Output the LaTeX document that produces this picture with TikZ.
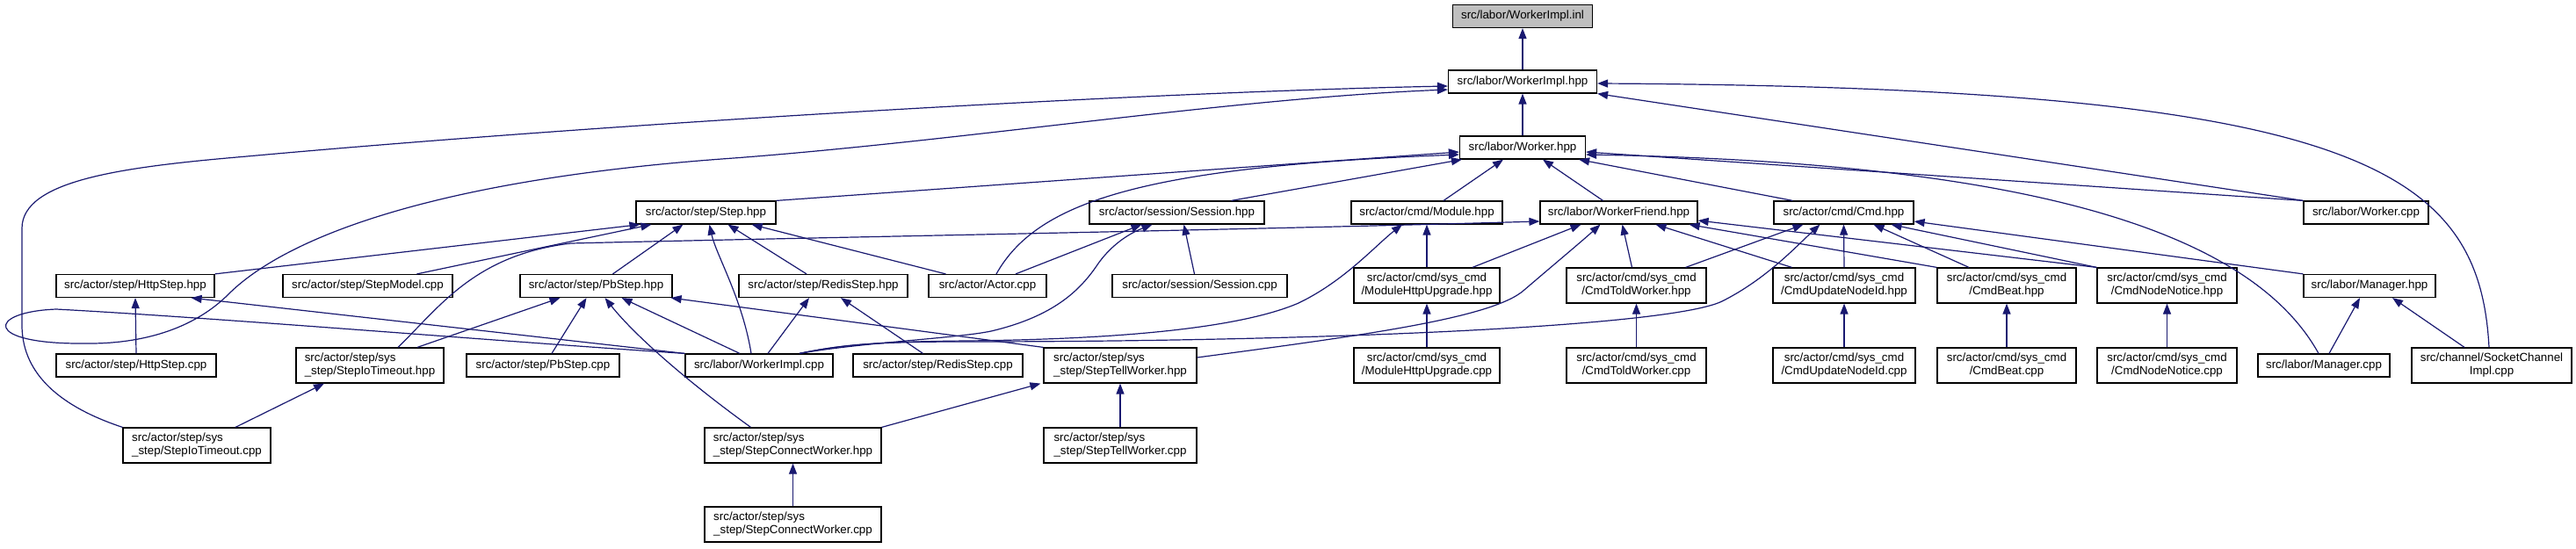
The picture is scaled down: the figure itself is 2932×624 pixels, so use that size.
\documentclass[tikz,border=0pt]{standalone}
\usepackage{fontspec}
\setmainfont{Liberation Sans}
\usetikzlibrary{arrows.meta}
\definecolor{edgeblue}{HTML}{191970}
\definecolor{inlgray}{HTML}{BFBFBF}
\begin{document}
\begin{tikzpicture}[x=1pt,y=-1pt,
 nd/.style={draw=black, line width=1.2pt, fill=white, inner sep=0pt, minimum height=26pt, font=\fontsize{13.33}{15}\selectfont, align=center},
 nd2/.style={nd, minimum height=40pt},
 ed/.style={draw=edgeblue, line width=1.2pt, -{Triangle[length=12pt,width=9pt]}}]
\useasboundingbox (0,0) rectangle (2932,624);
% row 0-2
\node[nd, fill=inlgray, minimum width=159pt] (inl) at (1733,18.5) {src/labor/WorkerImpl.inl};
\node[nd, minimum width=169pt] (implh) at (1733,93) {src/labor/WorkerImpl.hpp};
\node[nd, minimum width=143pt] (workerh) at (1733,168) {src/labor/Worker.hpp};
% row 3
\node[nd, minimum width=159pt] (steph) at (803.5,242) {src/actor/step/Step.hpp};
\node[nd, minimum width=199pt] (sessh) at (1339.5,242) {src/actor/session/Session.hpp};
\node[nd, minimum width=172pt] (modh) at (1624,242) {src/actor/cmd/Module.hpp};
\node[nd, minimum width=179pt] (friendh) at (1842.5,242) {src/labor/WorkerFriend.hpp};
\node[nd, minimum width=159pt] (cmdh) at (2098.5,242) {src/actor/cmd/Cmd.hpp};
\node[nd, minimum width=142pt] (workercpp) at (2693,242) {src/labor/Worker.cpp};
% row 4
\node[nd, minimum width=180pt] (httph) at (154,325.5) {src/actor/step/HttpStep.hpp};
\node[nd, minimum width=193pt] (modelcpp) at (418.5,325.5) {src/actor/step/StepModel.cpp};
\node[nd, minimum width=173pt] (pbh) at (678.5,325.5) {src/actor/step/PbStep.hpp};
\node[nd, minimum width=192pt] (redish) at (937,325.5) {src/actor/step/RedisStep.hpp};
\node[nd, minimum width=134pt] (actorcpp) at (1124,325.5) {src/actor/Actor.cpp};
\node[nd, minimum width=199pt] (sesscpp) at (1365.5,325.5) {src/actor/session/Session.cpp};
\node[nd2, minimum width=166pt] (modupgh) at (1624,325) {src/actor/cmd/sys\_cmd\\/ModuleHttpUpgrade.hpp};
\node[nd2, minimum width=159pt] (toldh) at (1862.5,325) {src/actor/cmd/sys\_cmd\\/CmdToldWorker.hpp};
\node[nd2, minimum width=162pt] (updh) at (2099,325) {src/actor/cmd/sys\_cmd\\/CmdUpdateNodeId.hpp};
\node[nd2, minimum width=158pt] (beath) at (2284,325) {src/actor/cmd/sys\_cmd\\/CmdBeat.hpp};
\node[nd2, minimum width=159pt] (noticeh) at (2466.5,325) {src/actor/cmd/sys\_cmd\\/CmdNodeNotice.hpp};
\node[nd, minimum width=150pt] (managerh) at (2697,325.5) {src/labor/Manager.hpp};
% row 5
\node[nd, minimum width=182pt] (httpcpp) at (155,416) {src/actor/step/HttpStep.cpp};
\node[nd2, align=left, minimum width=168pt] (iotoh) at (421,416) {src/actor/step/sys\\\_step/StepIoTimeout.hpp};
\node[nd, minimum width=174pt] (pbcpp) at (618,416) {src/actor/step/PbStep.cpp};
\node[nd, minimum width=168pt] (implcpp) at (864,416) {src/labor/WorkerImpl.cpp};
\node[nd, minimum width=193pt] (rediscpp) at (1067.5,416) {src/actor/step/RedisStep.cpp};
\node[nd2, align=left, minimum width=174pt] (tellh) at (1275,416) {src/actor/step/sys\\\_step/StepTellWorker.hpp};
\node[nd2, minimum width=166pt] (modupgcpp) at (1624,416) {src/actor/cmd/sys\_cmd\\/ModuleHttpUpgrade.cpp};
\node[nd2, minimum width=159pt] (toldcpp) at (1862.5,416) {src/actor/cmd/sys\_cmd\\/CmdToldWorker.cpp};
\node[nd2, minimum width=162pt] (updcpp) at (2099,416) {src/actor/cmd/sys\_cmd\\/CmdUpdateNodeId.cpp};
\node[nd2, minimum width=158pt] (beatcpp) at (2284,416) {src/actor/cmd/sys\_cmd\\/CmdBeat.cpp};
\node[nd2, minimum width=159pt] (noticecpp) at (2466.5,416) {src/actor/cmd/sys\_cmd\\/CmdNodeNotice.cpp};
\node[nd, minimum width=150pt] (managercpp) at (2645,416) {src/labor/Manager.cpp};
\node[nd2, minimum width=182pt] (socketcpp) at (2836,416) {src/channel/SocketChannel\\Impl.cpp};
% row 6-7
\node[nd2, align=left, minimum width=168pt] (iotocpp) at (224,507) {src/actor/step/sys\\\_step/StepIoTimeout.cpp};
\node[nd2, align=left, minimum width=201pt] (connh) at (902.5,507) {src/actor/step/sys\\\_step/StepConnectWorker.hpp};
\node[nd2, align=left, minimum width=174pt] (tellcpp) at (1275,507) {src/actor/step/sys\\\_step/StepTellWorker.cpp};
\node[nd2, align=left, minimum width=201pt] (conncpp) at (902.5,597) {src/actor/step/sys\\\_step/StepConnectWorker.cpp};

% edges to WorkerImpl.inl / WorkerImpl.hpp
\draw[ed] (implh.north) -- (inl.south);
\draw[ed] (workerh.north) -- (implh.south);
\draw[ed] (iotocpp.north west) .. controls (60,460) and (25,420) .. (25,370) -- (25,260) .. controls (25,205) and (140,190) .. (281,178) .. controls (700,140) and (1300,105) .. ([yshift=-5pt]implh.west);
\draw[ed] (implcpp.north west) .. controls (560,388) and (250,362) .. (64,352) .. controls (-15,355) and (-20,392) .. (96,391) .. controls (170,392) and (225,370) .. (260,335) .. controls (320,275) and (480,205) .. (835,180) .. controls (1100,160) and (1400,112) .. ([yshift=-9pt]implh.west);
\draw[ed] (workercpp.north west) -- (implh.south east);
\draw[ed] ([xshift=-3pt]socketcpp.north) .. controls (2822,190) and (2680,100) .. ([yshift=-2pt]implh.east);

% edges to Worker.hpp
\draw[ed] (steph.north east) -- ([yshift=-5pt]workerh.west);
\draw[ed] ([xshift=10pt]actorcpp.north) .. controls (1180,230) and (1300,190) .. ([yshift=-8pt]workerh.west);
\draw[ed] ([xshift=62pt]sessh.north) -- ([xshift=3pt]workerh.south west);
\draw[ed] ([xshift=19pt]modh.north) -- ([xshift=-22pt]workerh.south);
\draw[ed] ([xshift=-18pt]friendh.north) -- ([xshift=23pt]workerh.south);
\draw[ed] ([xshift=22pt]cmdh.north west) -- ([xshift=-8pt]workerh.south east);
\draw[ed] (workercpp.north west) -- ([yshift=-5pt]workerh.east);
\draw[ed] ([xshift=-6pt]managercpp.north) .. controls (2560,260) and (2300,185) .. ([yshift=-8pt]workerh.east);

% edges to Step.hpp
\draw[ed] (httph.north east) -- ([xshift=5pt]steph.south west);
\draw[ed] ([xshift=56pt]modelcpp.north) -- ([xshift=18pt]steph.south west);
\draw[ed] ([xshift=19pt]pbh.north) -- ([xshift=-26pt]steph.south);
\draw[ed] ([xshift=-9pt]implcpp.north) .. controls (845,340) and (815,290) .. ([xshift=4pt]steph.south);
\draw[ed] ([xshift=-19pt]redish.north) -- ([xshift=25pt]steph.south);
\draw[ed] ([xshift=20pt]actorcpp.north west) -- ([xshift=-28pt]steph.south east);

% edges to Session.hpp
\draw[ed] ([xshift=32pt]actorcpp.north) -- ([xshift=-40pt]sessh.south);
\draw[ed] ([xshift=46pt]implcpp.north) .. controls (980,390) and (1090,385) .. (1128,377) .. controls (1200,360) and (1230,330) .. (1250,300) .. controls (1270,272) and (1295,262) .. ([xshift=-28pt]sessh.south);
\draw[ed] ([xshift=-6pt]sesscpp.north) -- ([xshift=8pt]sessh.south);

% edges to Module.hpp
\draw[ed] (modupgh.north) -- (modh.south);
\draw[ed] ([xshift=46pt]implcpp.north) .. controls (960,392) and (1000,389) .. (1100,388) .. controls (1300,386) and (1420,370) .. (1478,345) .. controls (1530,320) and (1565,280) .. ([xshift=-28pt]modh.south);

% edges to WorkerFriend.hpp
\draw[ed] ([xshift=32pt]iotoh.north) .. controls (500,350) and (540,290) .. (650,277) .. controls (900,271) and (1400,262) .. ([yshift=-10pt]friendh.west);
\draw[ed] ([xshift=52pt]modupgh.north) -- ([xshift=-43pt]friendh.south);
\draw[ed] ([yshift=9pt]tellh.east) .. controls (1550,382) and (1700,362) .. (1735,330) .. controls (1770,300) and (1800,275) .. ([xshift=-21pt]friendh.south);
\draw[ed] ([xshift=-5pt]toldh.north) -- ([xshift=4pt]friendh.south);
\draw[ed] ([xshift=22pt]updh.north west) -- ([xshift=42pt]friendh.south);
\draw[ed] (beath.north west) -- ([xshift=-10pt]friendh.south east);
\draw[ed] (noticeh.north west) -- ([yshift=-9pt]friendh.east);

% edges to Cmd.hpp
\draw[ed] ([xshift=46pt]implcpp.north) .. controls (960,392) and (1000,389) .. (1100,389) .. controls (1500,389) and (1900,372) .. (1960,343) .. controls (2010,318) and (2045,280) .. ([xshift=-27pt]cmdh.south);
\draw[ed] ([xshift=-24pt]toldh.north east) -- ([xshift=-46pt]cmdh.south);
\draw[ed] (updh.north) -- (cmdh.south);
\draw[ed] ([xshift=-43pt]beath.north) -- ([xshift=34pt]cmdh.south);
\draw[ed] (noticeh.north west) -- ([xshift=54pt]cmdh.south);
\draw[ed] (managerh.north west) -- ([yshift=-10pt]cmdh.east);

% edges to Manager.hpp
\draw[ed] ([xshift=6pt]managercpp.north) -- ([xshift=-11pt]managerh.south);
\draw[ed] ([xshift=-31pt]socketcpp.north) -- ([xshift=26pt]managerh.south);

% other edges
\draw[ed] (httpcpp.north) -- (httph.south);
\draw[ed] (implcpp.north west) -- ([xshift=-27pt]httph.south east);
\draw[ed] ([xshift=54pt]iotoh.north) -- ([xshift=-41pt]pbh.south);
\draw[ed] ([xshift=10pt]pbcpp.north) -- ([xshift=-11pt]pbh.south);
\draw[ed] ([xshift=-48pt]connh.north) .. controls (790,440) and (725,385) .. ([xshift=10pt]pbh.south);
\draw[ed] ([xshift=-22pt]implcpp.north) -- ([xshift=29pt]pbh.south);
\draw[ed] (tellh.north west) -- ([xshift=-2pt]pbh.south east);
\draw[ed] ([xshift=10pt]implcpp.north) -- ([xshift=-16pt]redish.south);
\draw[ed] ([xshift=-17pt]rediscpp.north) -- ([xshift=20pt]redish.south);
\draw[ed] ([xshift=44pt]iotocpp.north) -- ([xshift=-52pt]iotoh.south);
\draw[ed] (conncpp.north) -- (connh.south);
\draw[ed] (connh.north east) -- ([xshift=-3pt]tellh.south west);
\draw[ed] (tellcpp.north) -- (tellh.south);
\draw[ed] (modupgcpp.north) -- (modupgh.south);
\draw[ed] (toldcpp.north) -- (toldh.south);
\draw[ed] (updcpp.north) -- (updh.south);
\draw[ed] (beatcpp.north) -- (beath.south);
\draw[ed] (noticecpp.north) -- (noticeh.south);
\end{tikzpicture}
\end{document}
